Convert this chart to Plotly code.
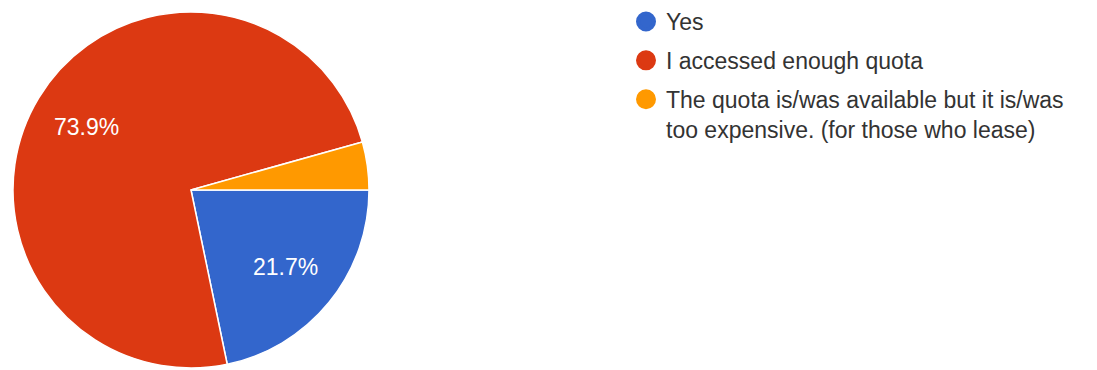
import math
import plotly.graph_objects as go

# Survey responses
labels = [
    "Yes",
    "I accessed enough quota",
    "The quota is/was available but it is/was<br>too expensive. (for those who lease)",
]
counts = [5, 17, 1]
colors = ["#3366CC", "#DC3912", "#FF9900"]

W, H = 1097, 370
FONT = "Arial, Liberation Sans, sans-serif"

# pie geometry in pixels
PIE_L, PIE_R, PIE_T, PIE_B = 13, 369, 12, 368
cx, cy = (PIE_L + PIE_R) / 2, (PIE_T + PIE_B) / 2
radius = (PIE_R - PIE_L) / 2
start_deg = 0  # first slice starts at 3 o'clock, going clockwise

total = sum(counts)

fig = go.Figure()
fig.add_trace(go.Pie(
    labels=labels,
    values=counts,
    textinfo="none",
    marker=dict(colors=colors, line=dict(color="white", width=1.5)),
    sort=False,
    direction="clockwise",
    rotation=90 + start_deg,
    showlegend=False,
    hoverinfo="label+percent",
    domain=dict(x=[PIE_L / W, PIE_R / W], y=[(H - PIE_B) / H, (H - PIE_T) / H]),
))

# percentage labels placed along each slice's bisector; thin slices stay unlabeled
cum = 0
for c in counts:
    frac = c / total
    mid = math.radians(start_deg + 360 * (cum + c / 2) / total)
    cum += c
    if frac < 0.05:
        continue
    px = cx + 0.685 * radius * math.cos(mid)
    py = cy + 0.685 * radius * math.sin(mid)
    fig.add_annotation(
        x=px / W, y=1 - py / H, xref="paper", yref="paper",
        text=f"{frac * 100:.1f}%", showarrow=False,
        xanchor="center", yanchor="middle",
        font=dict(family=FONT, size=23, color="white"),
    )

# circular legend entries
for i, (lab, col) in enumerate(zip(labels, colors)):
    fig.add_trace(go.Scatter(
        x=[None], y=[None], mode="markers", name=lab, legendgroup=f"g{i}",
        marker=dict(color=col, size=16, symbol="circle", line=dict(color=col, width=4)),
        showlegend=True,
    ))

fig.update_layout(
    width=W, height=H,
    margin=dict(l=0, r=0, t=0, b=0),
    paper_bgcolor="white", plot_bgcolor="white",
    xaxis=dict(visible=False), yaxis=dict(visible=False),
    legend=dict(
        x=626 / W, y=1, xanchor="left", yanchor="top",
        font=dict(family=FONT, size=23, color="#333333"),
        bgcolor="rgba(0,0,0,0)", itemclick=False,
        valign="top", tracegroupgap=6,
    ),
)

fig.write_html("out.html")
